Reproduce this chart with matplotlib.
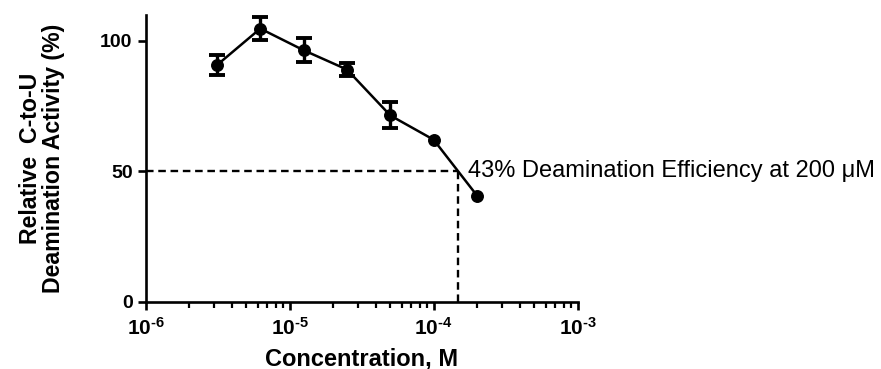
import numpy as np
import matplotlib
matplotlib.use("Agg")
import matplotlib.pyplot as plt
from matplotlib.ticker import FixedLocator, LogLocator, FuncFormatter, NullFormatter

plt.rcParams['font.family'] = ['Liberation Sans', 'DejaVu Sans']
plt.rcParams['mathtext.fontset'] = 'custom'
plt.rcParams['mathtext.rm'] = 'Liberation Sans'
plt.rcParams['mathtext.bf'] = 'Liberation Sans:bold'

# data
conc = [3.125e-6, 6.25e-6, 1.25e-5, 2.5e-5, 5e-5, 1e-4, 2e-4]
activity = [90.7, 104.7, 96.4, 89.0, 71.4, 62.1, 40.7]
sem = [3.9, 4.3, 4.5, 2.6, 5.0, 0.0, 0.0]
half_conc = 1.48e-4
half_level = 50
note = "43% Deamination Efficiency at 200 \u03bcM"

fig = plt.figure(figsize=(8.81, 3.69), dpi=100)
ax = fig.add_axes([0.1654, 0.1824, 0.6556 - 0.1654, 0.960 - 0.1824])

c = np.array(conc)
a = np.array(activity)
e = np.array(sem)
has_err = e > 0

ax.plot(c, a, 'o-', color='black', lw=1.8, ms=8.3, zorder=3)
ax.errorbar(c[has_err], a[has_err], yerr=e[has_err], fmt='none', ecolor='black',
            elinewidth=2.4, capsize=5.5, capthick=2.8, zorder=3)

# dashed guide lines at 50%
ax.plot([1e-6, half_conc], [half_level, half_level], color='black', lw=1.7,
        ls=(0, (3.2, 2)), zorder=2)
ax.plot([half_conc, half_conc], [0, half_level], color='black', lw=1.7,
        ls=(0, (3.2, 2)), zorder=2)
ax.text(1.73e-4, half_level, note, fontsize=17, va='center', ha='left',
        clip_on=False)

ax.set_xscale('log')
ax.set_xlim(1e-6, 1e-3)
ax.set_ylim(0, 110)
ax.yaxis.set_major_locator(FixedLocator([0, 50, 100]))
ax.xaxis.set_major_locator(LogLocator(base=10, numticks=10))
ax.xaxis.set_minor_locator(LogLocator(base=10, subs=np.arange(2, 10), numticks=10))
ax.xaxis.set_minor_formatter(NullFormatter())
ax.xaxis.set_major_formatter(FuncFormatter(
    lambda v, p: '$\\mathbf{10^{\u2010%d}}$' % abs(int(round(np.log10(v))))))

for s in ['top', 'right']:
    ax.spines[s].set_visible(False)
for s in ['left', 'bottom']:
    ax.spines[s].set_linewidth(1.9)

ax.tick_params(axis='both', which='major', direction='out', length=6,
               width=1.9, labelsize=14)
ax.tick_params(axis='x', which='major', labelsize=15, pad=5)
ax.tick_params(axis='x', which='minor', direction='out', length=4, width=1.6)
for lab in ax.get_yticklabels():
    lab.set_fontweight('bold')

ax.set_xlabel('Concentration, M', fontsize=17, fontweight='bold', labelpad=6)
ax.set_ylabel('Relative  C-to-U\nDeamination Activity (%)', fontsize=16.7,
              fontweight='bold', labelpad=25, linespacing=1.0)

fig.savefig('out.png', dpi=100, facecolor='white')
